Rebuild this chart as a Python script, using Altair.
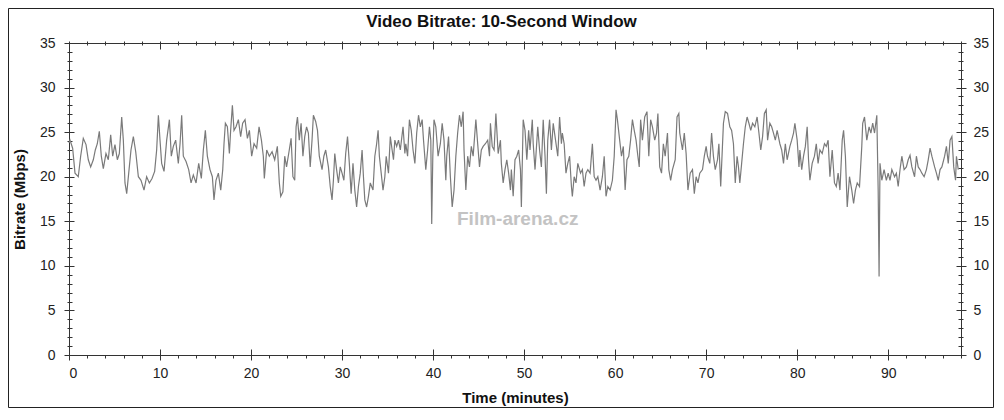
import altair as alt
import pandas as pd

# ---------------- data ----------------
minutes = [
    0.0, 0.11, 0.40, 0.66, 1.02, 1.28, 1.57, 1.87, 2.12, 2.38, 2.67, 2.89, 3.11, 3.33, 3.55, 3.77,
    4.06, 4.32, 4.58, 4.80, 5.05, 5.31, 5.53, 5.79, 5.97, 6.15, 6.34, 6.56, 6.81, 7.07, 7.33, 7.62,
    7.91, 8.24, 8.53, 8.83, 9.12, 9.41, 9.63, 9.82, 10.00, 10.18, 10.44, 10.73, 11.03, 11.24, 11.46,
    11.72, 12.01, 12.20, 12.38, 12.56, 12.86, 13.15, 13.41, 13.66, 13.96, 14.25, 14.54, 14.76, 14.98,
    15.20, 15.49, 15.75, 15.93, 16.15, 16.41, 16.67, 16.89, 17.03, 17.18, 17.40, 17.62, 17.76, 17.95,
    18.13, 18.35, 18.61, 18.86, 19.08, 19.34, 19.60, 19.82, 20.07, 20.33, 20.62, 20.88, 21.14, 21.35,
    21.46, 21.72, 22.01, 22.31, 22.60, 22.89, 23.11, 23.26,
    23.5, 23.7, 23.9, 24.2, 24.4, 24.6, 24.8, 24.95, 25.1, 25.3, 25.5, 25.7, 25.9, 26.1, 26.3, 26.5,
    26.7, 26.85, 27.1, 27.3, 27.5, 27.8, 28.0, 28.2, 28.5, 28.7, 28.9, 29.05, 29.2, 29.4, 29.6, 29.8,
    30.0, 30.2, 30.4, 30.6, 30.8, 31.0, 31.2, 31.4, 31.6, 31.8, 32.0, 32.2, 32.35, 32.5, 32.7, 32.9,
    33.1, 33.4, 33.6, 33.8, 33.96, 34.1, 34.3, 34.5, 34.7, 34.85, 35.1, 35.3, 35.5, 35.65, 35.8, 36.0,
    36.2, 36.4, 36.7, 36.9, 37.0, 37.2, 37.4, 37.6, 37.8, 38.0, 38.2, 38.4, 38.6, 38.8, 38.95, 39.2,
    39.4, 39.6, 39.75, 39.85, 39.97, 40.1, 40.3, 40.55, 40.8, 41.0, 41.2, 41.4, 41.5, 41.7, 41.9, 42.1,
    42.3, 42.5, 42.7, 42.9, 43.1, 43.3, 43.4, 43.6, 43.8, 44.0, 44.2, 44.4, 44.7, 44.9, 45.1, 45.3,
    45.5, 45.75, 46.0, 46.2, 46.3, 46.5, 46.7, 46.9, 47.15,
    47.4, 47.5, 47.7, 47.9, 48.1, 48.3, 48.5, 48.6, 48.8, 49.0, 49.2, 49.4, 49.6, 49.7, 49.9, 50.1,
    50.3, 50.5, 50.65, 50.9, 51.0, 51.2, 51.5, 51.7, 51.9, 52.1, 52.3, 52.45, 52.6, 52.8, 53.0, 53.2,
    53.4, 53.7, 53.9, 54.1, 54.2, 54.4, 54.6, 54.8, 55.0, 55.2, 55.3, 55.5, 55.7, 55.9, 56.2, 56.4,
    56.6, 56.8, 57.0, 57.25, 57.5, 57.7, 57.9, 58.1, 58.35, 58.6, 58.8, 59.0, 59.2, 59.45, 59.7, 59.9,
    60.1, 60.25, 60.5, 60.7, 60.9, 61.1, 61.3, 61.5, 61.7, 61.9, 62.1, 62.3, 62.5, 62.65, 62.8, 63.0,
    63.25, 63.5, 63.7, 63.9, 64.1, 64.35, 64.55, 64.7, 64.9, 65.1, 65.3, 65.5, 65.75, 65.9, 66.1, 66.3,
    66.6, 66.8, 67.0, 67.1, 67.4, 67.6, 67.8, 68.0, 68.25, 68.5, 68.7, 68.9, 69.1, 69.3, 69.6, 69.8,
    70.0, 70.15, 70.4, 70.6, 70.8, 71.0, 71.25, 71.4,
    71.6, 71.9, 72.1, 72.35, 72.6, 72.8, 73.0, 73.2, 73.4, 73.55, 73.7, 73.9, 74.1, 74.3, 74.5, 74.7,
    74.9, 75.1, 75.35, 75.6, 75.8, 76.0, 76.2, 76.4, 76.6, 76.75, 77.0, 77.2, 77.4, 77.6, 77.8, 78.1,
    78.3, 78.5, 78.7, 78.9, 79.2, 79.4, 79.6, 79.75, 80.0, 80.2, 80.3, 80.5, 80.7, 80.9, 81.1, 81.25,
    81.4, 81.65, 81.9, 82.1, 82.3, 82.5, 82.75, 83.0, 83.2, 83.4, 83.6, 83.85, 84.1, 84.3, 84.5, 84.7,
    84.95, 85.1, 85.3, 85.5, 85.75, 86.0, 86.2, 86.4, 86.6, 86.85, 87.1, 87.2, 87.4, 87.65, 87.9, 88.1,
    88.3, 88.5, 88.75, 88.9, 89.0, 89.1, 89.3, 89.55, 89.8, 90.0, 90.2, 90.4, 90.7, 90.9, 91.1, 91.3,
    91.5, 91.75, 92.0, 92.2, 92.4, 92.6, 92.9, 93.1, 93.3, 93.5, 93.7, 93.95, 94.2, 94.4, 94.6, 94.8,
    95.1, 95.3, 95.5, 95.7, 95.9, 96.2, 96.4, 96.6, 96.8, 97.0, 97.2, 97.4, 97.5, 97.7,
]
bitrate = [
    23.8, 24.1, 23.2, 20.4, 20.0, 22.3, 24.3, 23.6, 21.9, 21.1, 21.9, 23.0, 23.7, 25.1, 22.3, 20.9,
    22.6, 21.9, 24.7, 22.3, 23.6, 21.9, 22.6, 26.7, 24.1, 19.3, 18.1, 20.4, 23.0, 24.5, 22.8, 20.0,
    19.6, 18.5, 20.0, 19.3, 19.8, 20.6, 23.0, 26.9, 24.1, 21.5, 20.6, 24.1, 26.4, 22.3, 23.4,
    24.1, 21.5, 23.7, 26.9, 22.3, 21.7, 20.8, 19.3, 20.2, 19.3, 21.5, 19.8, 23.0, 25.2,
    22.3, 20.8, 20.0, 17.4, 19.6, 20.4, 18.5, 20.8, 23.7, 26.0, 25.6, 22.6, 25.2, 28.0,
    25.2, 25.6, 26.4, 24.5, 26.0, 26.4, 24.3, 25.2, 22.3, 23.7, 23.2, 25.6, 24.1, 22.3,
    19.8, 23.0, 22.3, 22.8, 21.9, 23.4, 19.3, 17.8,
    18.3, 22.3, 21.1, 23.0, 24.3, 20.0, 19.6, 25.6, 26.7, 24.1, 26.0, 22.3, 24.5, 25.6, 24.9, 21.1,
    24.1, 26.9, 26.2, 25.2, 22.3, 20.8, 22.3, 23.0, 21.1, 18.9, 17.4, 19.6, 22.6, 20.8, 19.3, 21.1,
    20.4, 19.6, 22.6, 24.5, 21.5, 18.1, 21.5, 18.5, 16.6, 18.9, 20.4, 23.0, 20.0, 17.4, 16.6, 17.8,
    19.3, 18.5, 22.3, 23.7, 25.2, 22.3, 20.4, 18.5, 20.0, 22.3, 20.4, 24.5, 23.0, 21.9, 24.1, 23.4,
    24.1, 23.0, 25.6, 22.6, 23.7, 22.3, 26.4, 25.2, 23.0, 21.5, 24.9, 26.9, 25.6, 26.4, 24.1, 20.8,
    23.0, 25.6, 24.1, 14.7, 22.3, 26.4, 25.6, 22.3, 23.7, 26.0, 24.1, 19.6, 22.3, 24.5, 20.0, 16.6,
    18.5, 22.3, 24.9, 26.9, 25.6, 27.3, 23.0, 18.5, 22.3, 21.1, 23.4, 22.3, 26.4, 23.7, 21.1, 23.0,
    23.4, 23.7, 24.1, 22.3, 26.0, 23.4, 23.0, 27.1, 22.6,
    24.1, 21.5, 19.3, 20.8, 21.9, 20.4, 18.5, 20.8, 17.8, 21.9, 22.3, 23.0, 20.8, 16.6, 26.4, 25.2,
    21.9, 25.2, 23.0, 26.4, 23.7, 20.8, 25.6, 23.0, 21.1, 26.4, 22.3, 18.1, 24.1, 26.4, 23.0, 26.0,
    24.5, 22.3, 26.7, 23.7, 24.9, 23.7, 20.4, 21.5, 22.3, 18.9, 17.8, 20.0, 19.3, 21.5, 20.4, 20.8,
    18.9, 20.4, 20.8, 20.4, 23.7, 20.0, 19.6, 20.0, 18.5, 20.0, 22.3, 17.8, 18.9, 18.5, 19.6, 22.3,
    27.5, 26.4, 24.1, 22.3, 23.4, 18.5, 21.9, 22.3, 24.1, 26.4, 25.2, 24.1, 22.3, 21.1, 26.4, 24.1,
    26.7, 27.3, 22.3, 26.4, 25.6, 24.1, 24.9, 27.1, 21.1, 20.4, 23.7, 22.3, 24.9, 20.8, 19.6, 20.8,
    21.9, 26.7, 27.1, 24.9, 23.0, 24.9, 22.6, 18.5, 20.4, 20.8, 18.1, 20.0, 19.3, 20.4, 20.8, 22.3,
    23.4, 22.3, 21.5, 24.9, 22.3, 20.8, 21.9, 23.7,
    18.9, 26.0, 27.3, 27.1, 25.6, 25.2, 23.7, 19.3, 22.3, 21.1, 19.3, 21.5, 23.7, 25.6, 26.7, 26.0,
    25.2, 26.0, 25.6, 26.7, 24.9, 23.0, 24.5, 27.1, 27.5, 24.1, 26.0, 25.6, 24.9, 24.1, 25.2, 23.7,
    23.0, 21.5, 23.7, 21.9, 23.4, 24.1, 24.9, 26.0, 24.1, 21.1, 23.0, 20.8, 22.3, 23.4, 25.6, 21.9,
    19.6, 21.5, 22.3, 23.7, 21.5, 23.0, 22.6, 23.7, 23.4, 24.1, 20.0, 23.0, 19.3, 18.9, 20.4, 18.5,
    24.1, 25.2, 22.3, 16.6, 20.0, 18.5, 17.0, 18.5, 19.3, 18.9, 23.4, 26.0, 26.7, 24.1, 25.6, 24.9,
    26.0, 24.9, 26.9, 18.5, 8.8, 21.5, 19.6, 20.8, 19.6, 20.4, 19.6, 20.8, 20.0, 20.4, 18.9, 20.8,
    22.3, 20.8, 21.1, 21.9, 22.4, 21.1, 20.0, 22.3, 21.1, 20.8, 20.4, 20.0, 20.8, 21.9, 23.2, 22.3,
    21.1, 20.4, 19.6, 20.8, 21.1, 22.3, 23.4, 21.5, 24.1, 24.5, 21.1, 19.6, 22.3, 20.8,
]

x_major = [0, 10, 20, 30, 40, 50, 60, 70, 80, 90]
x_minor = list(range(0, 99, 2))
y_major = [0, 5, 10, 15, 20, 25, 30, 35]
y_minor = list(range(0, 36))

title_text = ["Video Bitrate: 10-Second Window"]
x_title = "Time (minutes)"
y_title = "Bitrate (Mbps)"
watermark = ["Film-arena.cz"]

df = pd.DataFrame({"minutes": minutes, "bitrate": bitrate})
wm = pd.DataFrame({"minutes": [49.3], "bitrate": [15.3], "t": watermark})
tt = pd.DataFrame({"t": title_text})

# ---------------- layout ----------------
W, H = 892, 312
PL, PT, PR, PB = 61, 35, 33, 53
FONT = "Liberation Sans"
AX = "#333333"
LBL = "#222222"

xs = alt.Scale(domain=[0, 98], nice=False, zero=False)
ys = alt.Scale(domain=[0, 35], nice=False)


def xaxis(**kw):
    base = dict(grid=False, title=None, labels=False, ticks=False, domain=False,
                tickColor=AX, domainColor=AX)
    base.update(kw)
    return alt.Axis(**base)


yaxis = xaxis


def carrier(xa, ya):
    return alt.Chart(df).mark_point(opacity=0).encode(
        x=alt.X("minutes:Q", scale=xs, axis=xa),
        y=alt.Y("bitrate:Q", scale=ys, axis=ya),
    )


line = alt.Chart(df).mark_line(color="#7a7a7a", strokeWidth=1.2).encode(
    x=alt.X("minutes:Q", scale=xs, axis=xaxis(
        orient="bottom", values=x_major, labels=True, domain=True, tickSize=0,
        labelPadding=11, labelFontSize=14, labelColor=LBL, labelFont=FONT,
        title=x_title, titleFont=FONT, titleFontSize=15, titleFontWeight="bold",
        titleColor="#111111", titleY=42, titleBaseline="middle")),
    y=alt.Y("bitrate:Q", scale=ys, axis=yaxis(
        orient="left", values=y_major, labels=True, domain=True, tickSize=0,
        labelPadding=14, labelFontSize=14, labelColor=LBL, labelFont=FONT,
        title=y_title, titleFont=FONT, titleFontSize=15, titleFontWeight="bold",
        titleColor="#111111", titleX=-50, titleY=H / 2, titleAngle=-90,
        titleBaseline="middle", titleAlign="center")),
)

l2 = carrier(
    xaxis(orient="top", values=x_major, domain=True),
    yaxis(orient="right", values=y_major, labels=True, domain=True, tickSize=0,
          labelPadding=12, labelFontSize=14, labelColor=LBL, labelFont=FONT),
)
l3 = carrier(
    xaxis(orient="bottom", values=x_major, ticks=True, tickSize=11, offset=-6),
    yaxis(orient="left", values=y_major, ticks=True, tickSize=10, offset=-5),
)
l4 = carrier(
    xaxis(orient="bottom", values=x_minor, ticks=True, tickSize=3),
    yaxis(orient="left", values=y_minor, ticks=True, tickSize=5, offset=-3),
)
l5 = carrier(
    xaxis(orient="top", values=x_major, ticks=True, tickSize=6, offset=-6),
    yaxis(orient="right", values=y_major, ticks=True, tickSize=10, offset=-5),
)
l6 = carrier(
    xaxis(orient="top", values=x_minor, ticks=True, tickSize=4, offset=-2),
    yaxis(orient="right", values=y_minor, ticks=True, tickSize=5, offset=-3),
)

mark_wm = alt.Chart(wm).mark_text(
    font=FONT, fontSize=19, fontWeight="bold", color="#bdbdbd", opacity=0.9
).encode(
    x=alt.X("minutes:Q", scale=xs, axis=None),
    y=alt.Y("bitrate:Q", scale=ys, axis=None),
    text="t:N",
)

# chart title drawn as a text mark so it stays inside the page
title_mark = alt.Chart(tt).mark_text(
    font=FONT, fontSize=17, fontWeight="bold", color="#111111",
    align="center", baseline="alphabetic"
).encode(
    x=alt.value(432.5), y=alt.value(-16), text="t:N",
)

TW, TH = PL + W + PR, PT + H + PB
frame = alt.Chart(pd.DataFrame({"a": [1]})).mark_rect(
    filled=False, stroke="#222222", strokeWidth=1
).encode(
    x=alt.value(-PL + 0.5), x2=alt.value(TW - PL - 0.5),
    y=alt.value(-PT + 0.5), y2=alt.value(TH - PT - 0.5),
)

chart = alt.layer(line, l2, l3, l4, l5, l6, mark_wm, title_mark, frame).resolve_axis(
    x="independent", y="independent"
).properties(
    width=W, height=H,
    autosize=alt.AutoSizeParams(type="none"),
    padding={"left": PL, "top": PT, "right": PR, "bottom": PB},
).configure_view(strokeWidth=0).configure(background="white")

chart.save("out.html", embed_options={"renderer": "svg", "actions": False})
